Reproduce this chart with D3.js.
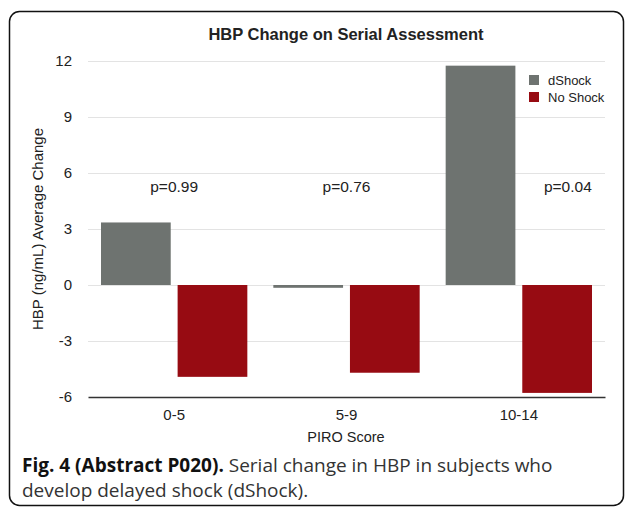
<!DOCTYPE html>
<html>
<head>
<meta charset="utf-8">
<script src="https://cdn.jsdelivr.net/npm/d3@7"></script>
<style>
  body { margin: 0; background: #fff; }
  text { font-family: "Liberation Sans", Arial, sans-serif; fill: #222; }
  .caption { font-family: "Open Sans", "Noto Sans", sans-serif; fill: #333; }
</style>
</head>
<body>
<div id="chart"></div>
<script>
// chart data
var categories = ["0-5", "5-9", "10-14"];
var seriesNames = ["dShock", "No Shock"];
var dShock = [3.35, -0.15, 11.75];
var noShock = [-4.92, -4.7, -5.78];
var pValues = ["p=0.99", "p=0.76", "p=0.04"];
var yTicks = [-6, -3, 0, 3, 6, 9, 12];

var W = 630, H = 507;
var colors = {"dShock": "#6e7370", "No Shock": "#970b12"};

var svg = d3.select("#chart").append("svg")
  .attr("width", W)
  .attr("height", H);

// frame round figure
svg.append("rect")
  .attr("x", 9.5).attr("y", 11.5)
  .attr("width", 614).attr("height", 494)
  .attr("rx", 10)
  .attr("fill", "none")
  .attr("stroke", "#111")
  .attr("stroke-width", 1.5);

var x = d3.scaleBand().domain(categories).range([88, 605]);
var xs = d3.scaleBand().domain(seriesNames)
  .range([13, x.bandwidth() - 13]).paddingInner(0.09);
var y = d3.scaleLinear().domain([-6, 12]).range([397, 61]);

// grid lines
svg.append("g").selectAll("line")
  .data(yTicks.filter(function(d) { return d != -6; }))
  .enter().append("line")
  .attr("x1", 88).attr("x2", 605)
  .attr("y1", function(d) { return y(d) + 0.5; })
  .attr("y2", function(d) { return y(d) + 0.5; })
  .attr("stroke", "#e3e3e3");

// y axis labels (plain hyphen for negatives, like the original)
var yAxis = svg.append("g")
  .attr("transform", "translate(88,0)")
  .call(d3.axisLeft(y).tickValues(yTicks).tickSize(0).tickPadding(16)
    .tickFormat(function(d) { return String(d); }));
yAxis.select(".domain").remove();
yAxis.selectAll("text").style("font-size", "15px").attr("fill", "#222")
  .style("font-family", "Liberation Sans, Arial, sans-serif");

// bars
var rows = categories.map(function(c, i) {
  return {cat: c, vals: [{s: "dShock", v: dShock[i]}, {s: "No Shock", v: noShock[i]}]};
});

var groups = svg.append("g").selectAll("g")
  .data(rows)
  .enter().append("g")
  .attr("transform", function(d) { return "translate(" + x(d.cat) + ",0)"; });

groups.selectAll("rect")
  .data(function(d) { return d.vals; })
  .enter().append("rect")
  .attr("x", function(d) { return xs(d.s); })
  .attr("width", xs.bandwidth())
  .attr("y", function(d) { return y(Math.max(0, d.v)); })
  .attr("height", function(d) { return Math.abs(y(d.v) - y(0)); })
  .attr("fill", function(d) { return colors[d.s]; });

// x axis
var xAxis = svg.append("g")
  .attr("transform", "translate(0," + y(-6) + ")")
  .call(d3.axisBottom(x).tickSize(0).tickPadding(12));
xAxis.select(".domain").attr("stroke", "#333").attr("stroke-width", 1.5);
xAxis.selectAll("text").style("font-size", "15px").attr("fill", "#222")
  .style("font-family", "Liberation Sans, Arial, sans-serif");

// p values
svg.append("g").selectAll("text")
  .data(pValues)
  .enter().append("text")
  .attr("x", function(d, i) {
    var cx = x(categories[i]) + x.bandwidth() / 2;
    return i == 2 ? cx + 49 : cx;   // last one sits beside the tall bar
  })
  .attr("y", 192)
  .attr("text-anchor", "middle")
  .style("font-size", "15.5px")
  .text(function(d) { return d; });

// title
svg.append("text")
  .attr("x", 346).attr("y", 40)
  .attr("text-anchor", "middle")
  .style("font-size", "16.5px")
  .style("font-weight", "bold")
  .text("HBP Change on Serial Assessment");

// axis titles
svg.append("text")
  .attr("transform", "translate(43," + y(3) + ") rotate(-90)")
  .attr("text-anchor", "middle")
  .style("font-size", "15px")
  .text("HBP (ng/mL) Average Change");

svg.append("text")
  .attr("x", 346).attr("y", 442)
  .attr("text-anchor", "middle")
  .style("font-size", "14.5px")
  .text("PIRO Score");

// legend
var legend = svg.append("g").selectAll("g")
  .data(seriesNames)
  .enter().append("g")
  .attr("transform", function(d, i) { return "translate(529," + (75 + i * 17) + ")"; });
legend.append("rect")
  .attr("width", 10).attr("height", 10)
  .attr("fill", function(d) { return colors[d]; });
legend.append("text")
  .attr("x", 19).attr("y", 9.5)
  .style("font-size", "13px")
  .text(function(d) { return d; });

// caption
var cap = svg.append("text").attr("class", "caption")
  .attr("x", 22).attr("y", 472)
  .style("font-size", "19px");
cap.append("tspan").style("font-weight", "bold").style("fill", "#111")
  .text("Fig. 4 (Abstract P020).");
cap.append("tspan").text(" Serial change in HBP in subjects who");
svg.append("text").attr("class", "caption")
  .attr("x", 22).attr("y", 497)
  .style("font-size", "19px")
  .text("develop delayed shock (dShock).");
</script>
</body>
</html>
